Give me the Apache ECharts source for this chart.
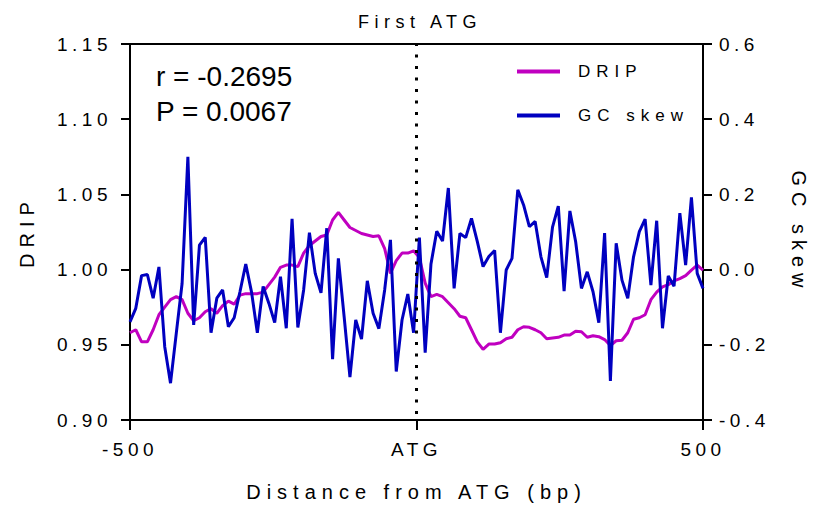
<!DOCTYPE html>
<html>
<head>
<meta charset="utf-8">
<script src="https://cdn.jsdelivr.net/npm/echarts@6/dist/echarts.min.js"></script>
<style>
  html, body { margin: 0; padding: 0; background: #fff; }
  #chart { width: 817px; height: 515px; }
  /* spaced lettering for axis, legend and title text; stats text stays tight */
  #chart text { letter-spacing: 0; }
  #chart text[style*="19px"] { letter-spacing: 4.5px; }
  #chart text[style*="18px"] { letter-spacing: 5.5px; }
  #chart text[style*="17px"] { letter-spacing: 6px; }
  #chart text[style*="20px"] { letter-spacing: 6px; }
  #chart text[style*="28px"] { letter-spacing: 0; }
</style>
</head>
<body>
<div id="chart"></div>
<script>
// DRIP signal (left axis), 100 bins across -500..500 bp around the first ATG
const dripValues = [
  0.958, 0.960, 0.952, 0.952, 0.960, 0.970, 0.975, 0.980, 0.982, 0.980,
  0.971, 0.966, 0.968, 0.972, 0.974, 0.971, 0.976, 0.979, 0.977, 0.983,
  0.984, 0.984, 0.984, 0.985, 0.990, 0.995, 1.0015, 1.003, 1.003, 1.002,
  1.011, 1.016, 1.019, 1.022, 1.023, 1.033, 1.038, 1.033, 1.028, 1.026,
  1.024, 1.023, 1.022, 1.0225, 1.014, 0.9975, 1.006, 1.011, 1.011, 1.0125,
  1.008, 0.991, 0.982, 0.9835, 0.982, 0.978, 0.974, 0.969, 0.968, 0.960,
  0.952, 0.947, 0.9505, 0.9505, 0.9514, 0.954, 0.955, 0.960, 0.962, 0.9616,
  0.960, 0.958, 0.954, 0.9545, 0.955, 0.9565, 0.9565, 0.959, 0.9587, 0.955,
  0.956, 0.9554, 0.9535, 0.9495, 0.9527, 0.953, 0.958, 0.967, 0.968, 0.970,
  0.980, 0.985, 0.9885, 0.990, 0.9925, 0.994, 0.996, 0.9997, 1.003, 0.9997
];

// GC skew (right axis), same bins
const gcSkewValues = [
  -0.139, -0.103, -0.016, -0.013, -0.076, 0.007, -0.205, -0.302, -0.169, -0.037,
  0.300, -0.147, 0.065, 0.086, -0.168, -0.076, -0.054, -0.152, -0.128, -0.059,
  0.015, -0.060, -0.168, -0.045, -0.090, -0.141, -0.019, -0.156, 0.135, -0.154,
  -0.054, 0.098, -0.010, -0.062, 0.110, -0.238, 0.030, -0.126, -0.286, -0.134,
  -0.185, -0.030, -0.116, -0.157, -0.054, 0.079, -0.271, -0.134, -0.065, -0.168,
  0.085, -0.221, 0.015, 0.102, 0.076, 0.217, -0.050, 0.096, 0.085, 0.136,
  0.075, 0.008, 0.035, 0.051, -0.168, -0.001, 0.030, 0.212, 0.172, 0.114,
  0.128, 0.034, -0.021, 0.113, 0.169, -0.057, 0.156, 0.074, -0.050, -0.006,
  -0.059, -0.141, 0.097, -0.296, 0.070, -0.028, -0.076, 0.034, 0.101, 0.134,
  -0.041, 0.130, -0.156, -0.017, -0.044, 0.150, 0.012, 0.192, -0.010, -0.050
];

// bin positions (bp from ATG), evenly spread over the window
const binPositions = dripValues.map((_, i) => -500 + i * 1000 / 99);

const xTicks = [-500, 0, 500];
const xTickLabels = { '-500': '-500', '0': 'ATG', '500': '500' };
const seriesNames = ['DRIP', 'GC skew'];
const statsLines = ['r = -0.2695', 'P = 0.0067'];

const FONT = '"Liberation Sans", Arial, sans-serif';
const BLACK = '#000';
const MAGENTA = '#c000c0';
const BLUE = '#0000c0';

const axisLineStyle = { color: BLACK, width: 2 };

const chart = echarts.init(document.getElementById('chart'), null, { renderer: 'svg' });

chart.setOption({
  animation: false,
  backgroundColor: '#fff',
  title: {
    text: 'First ATG',
    left: 415,
    top: 8,
    textAlign: 'center',
    textStyle: { fontFamily: FONT, fontSize: 18, fontWeight: 'normal', color: BLACK }
  },
  legend: {
    orient: 'vertical',
    left: 512,
    top: 58,
    itemWidth: 43,
    itemHeight: 4,
    itemGap: 27,
    icon: 'rect',
    data: seriesNames,
    textStyle: { fontFamily: FONT, fontSize: 17, color: BLACK, padding: [0, 0, 0, 13] }
  },
  grid: {
    left: 130, right: 111, top: 44, bottom: 95,
    show: true, borderColor: BLACK, borderWidth: 2, backgroundColor: 'transparent'
  },
  xAxis: {
    type: 'value',
    min: xTicks[0],
    max: xTicks[xTicks.length - 1],
    interval: 500,
    name: 'Distance from ATG (bp)',
    nameLocation: 'middle',
    nameGap: 62,
    nameTextStyle: { fontFamily: FONT, fontSize: 20, color: BLACK },
    axisLine: { show: true, onZero: false, lineStyle: axisLineStyle },
    axisTick: { show: true, length: 10, lineStyle: axisLineStyle },
    axisLabel: {
      margin: 20,
      fontFamily: FONT, fontSize: 19, color: BLACK,
      formatter: v => xTickLabels[String(v)] ?? String(v)
    },
    splitLine: { show: false }
  },
  yAxis: [
    {
      type: 'value',
      min: 0.9, max: 1.15, interval: 0.05,
      name: 'DRIP',
      nameLocation: 'middle',
      nameRotate: 90,
      nameGap: 93,
      nameTextStyle: { fontFamily: FONT, fontSize: 20, color: BLACK },
      axisLine: { show: true, onZero: false, lineStyle: axisLineStyle },
      axisTick: { show: true, length: 9, lineStyle: axisLineStyle },
      axisLabel: {
        margin: 18, fontFamily: FONT, fontSize: 19, color: BLACK,
        formatter: v => v.toFixed(2)
      },
      splitLine: { show: false }
    },
    {
      type: 'value',
      position: 'right',
      min: -0.4, max: 0.6, interval: 0.2,
      name: 'GC skew',
      nameLocation: 'middle',
      nameRotate: -90,
      nameGap: 86,
      nameTextStyle: { fontFamily: FONT, fontSize: 20, color: BLACK },
      axisLine: { show: true, onZero: false, lineStyle: axisLineStyle },
      axisTick: { show: true, length: 9, lineStyle: axisLineStyle },
      axisLabel: {
        margin: 16, fontFamily: FONT, fontSize: 19, color: BLACK,
        formatter: v => (Math.abs(v) < 1e-9 ? 0 : v).toFixed(1)
      },
      splitLine: { show: false }
    }
  ],
  graphic: statsLines.map((t, i) => ({
    type: 'text',
    left: 156,
    top: 62 + i * 35,
    style: { text: t, font: '28px "Liberation Sans", Arial, sans-serif', fill: BLACK }
  })),
  series: [
    {
      name: seriesNames[0],
      type: 'line',
      yAxisIndex: 0,
      data: binPositions.map((x, i) => [x, dripValues[i]]),
      symbol: 'none',
      lineStyle: { color: MAGENTA, width: 3 },
      itemStyle: { color: MAGENTA },
      markLine: {
        silent: true,
        symbol: ['none', 'none'],
        label: { show: false },
        lineStyle: { color: BLACK, width: 3, type: [3, 8.5], dashOffset: -6 },
        data: [{ xAxis: 0 }]
      },
      z: 2
    },
    {
      name: seriesNames[1],
      type: 'line',
      yAxisIndex: 1,
      data: binPositions.map((x, i) => [x, gcSkewValues[i]]),
      symbol: 'none',
      lineStyle: { color: BLUE, width: 3 },
      itemStyle: { color: BLUE },
      z: 3
    }
  ]
});
</script>
</body>
</html>
